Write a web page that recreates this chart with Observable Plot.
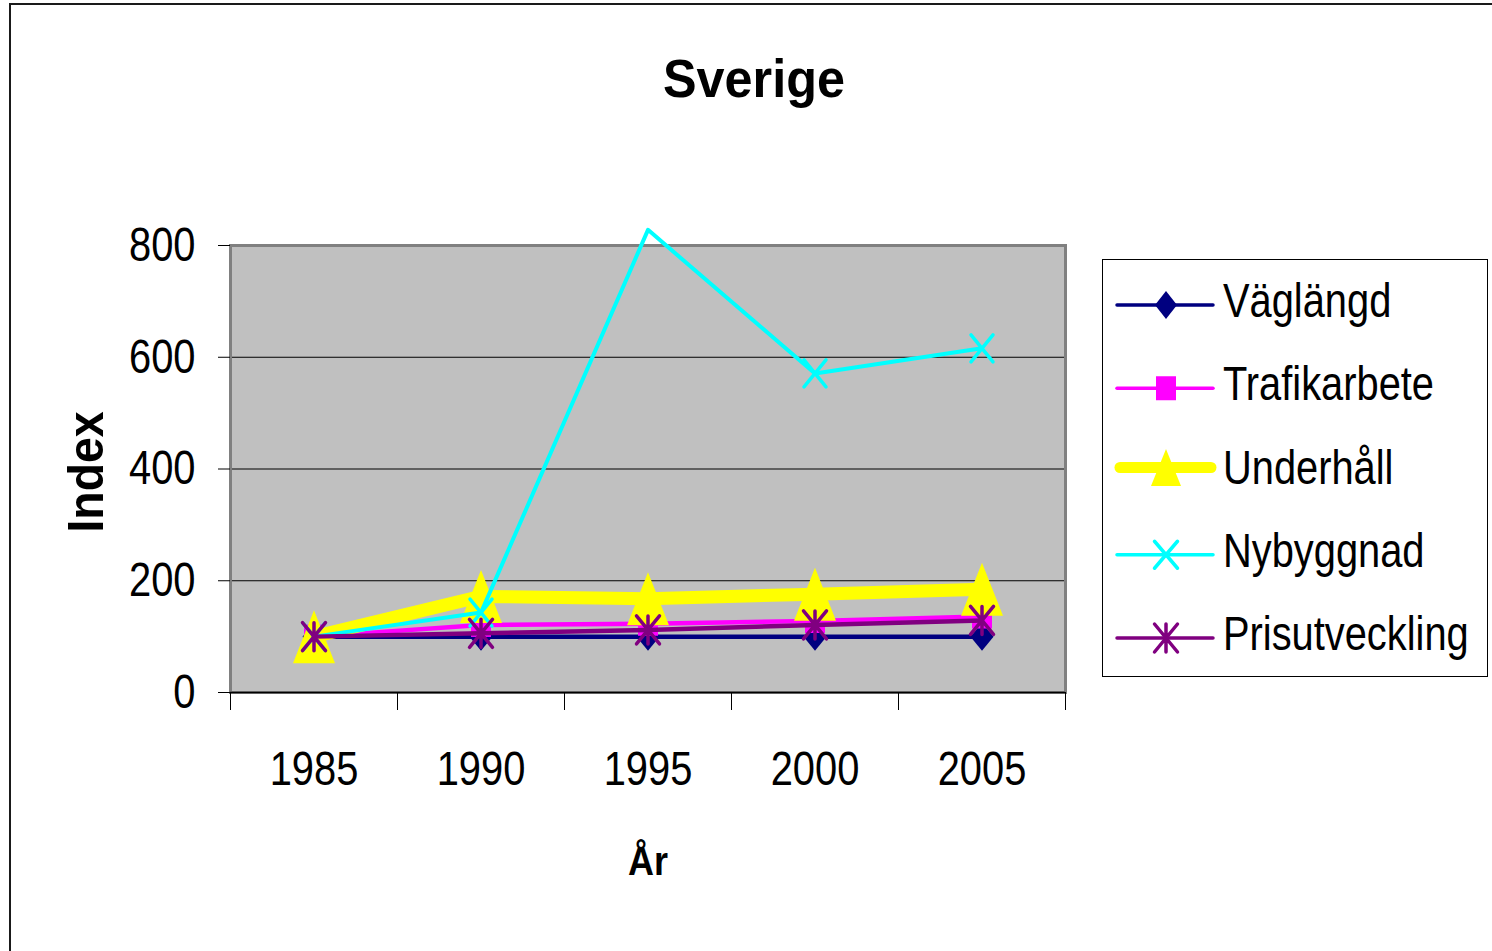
<!DOCTYPE html>
<html><head><meta charset="utf-8">
<script src="https://cdn.jsdelivr.net/npm/d3@7"></script>
<script src="https://cdn.jsdelivr.net/npm/@observablehq/plot@0.6"></script>
<style>
html,body{margin:0;padding:0;background:#fff;overflow:hidden}
#wrap{position:relative;width:1492px;height:951px;overflow:hidden}
#wrap > svg{position:absolute;left:0;top:0}
#border{position:absolute;left:9px;top:3px;width:1600px;height:1100px;border-left:2px solid #1a1a1a;border-top:2px solid #1a1a1a}
</style></head><body><div id="wrap"><div id="border"></div></div>
<script>
// ---- data ----
const years = [1985, 1990, 1995, 2000, 2005];
const seriesNames = ["Väglängd", "Trafikarbete", "Underhåll", "Nybyggnad", "Prisutveckling"];
const vaglangd = [100, 100, 100, 100, 100];
const trafikarbete = [100, 121, 123, 128, 136];
const underhall = [100, 172, 168, 176, 185];
const nybyggnad = [100, 143, 828, 571, 616];
const prisutveckling = [100, 106, 112, 121, 129];
const yTicks = [0, 200, 400, 600, 800];
const gridTicks = [200, 400, 600];
const categoryBounds = [1982.5, 1987.5, 1992.5, 1997.5, 2002.5, 2007.5];
const titleText = "Sverige";
const xLabel = "År";
const yLabel = "Index";

const seriesValues = [vaglangd, trafikarbete, underhall, nybyggnad, prisutveckling];
const colors = ["#000080", "#ff00ff", "#ffff00", "#00ffff", "#800080"];

const FONT = "'Liberation Sans', Arial, sans-serif";
const NARROW = 0.83;

// ---- marker shapes ----
const mkDiamond = (w, h) => ({draw(c){c.moveTo(0,-h/2);c.lineTo(w/2,0);c.lineTo(0,h/2);c.lineTo(-w/2,0);c.closePath();}});
const mkSquare = (w, h) => ({draw(c){c.rect(-w/2,-h/2,w,h);}});
const mkTriangle = (w, h) => ({draw(c){c.moveTo(0,-h/2);c.lineTo(w/2,h/2);c.lineTo(-w/2,h/2);c.closePath();}});
const mkX = (w, h) => ({draw(c){c.moveTo(-w/2,-h/2);c.lineTo(w/2,h/2);c.moveTo(w/2,-h/2);c.lineTo(-w/2,h/2);}});
const mkStar = (w, h) => ({draw(c){c.moveTo(-w/2,-h/2);c.lineTo(w/2,h/2);c.moveTo(w/2,-h/2);c.lineTo(-w/2,h/2);c.moveTo(0,-h/2);c.lineTo(0,h/2);}});

const styles = [
  {sym: mkDiamond(23, 28), lsym: mkDiamond(22, 28), filled: true, lw: 4.5, llw: 3.5},
  {sym: mkSquare(20, 24), lsym: mkSquare(20, 24), filled: true, lw: 4.5, llw: 3.5},
  {sym: mkTriangle(42, 53), lsym: mkTriangle(30, 37), filled: true, lw: 13, llw: 11},
  {sym: mkX(22, 27), lsym: mkX(23, 27), filled: false, lw: 4, llw: 3.5},
  {sym: mkStar(23, 28), lsym: mkStar(23, 28), filled: false, lw: 4.5, llw: 3.5}
];

const table = seriesNames.map((name, i) => years.map((year, j) => ({series: name, year, value: seriesValues[i][j]})));

const seriesMarks = table.flatMap((rows, i) => {
  const s = styles[i];
  return [
    Plot.line(rows, {x: "year", y: "value", stroke: colors[i], strokeWidth: s.lw, strokeLinejoin: "round", strokeLinecap: "round"}),
    Plot.dot(rows.filter(d => d.value <= 800), {
      x: "year", y: "value", r: 5, symbol: s.sym,
      fill: s.filled ? colors[i] : "none",
      stroke: s.filled ? "none" : colors[i],
      strokeWidth: s.filled ? 0 : 3.5, strokeLinecap: "round"
    })
  ];
});

const plot = Plot.plot({
  width: 1492, height: 951,
  marginLeft: 230, marginRight: 427, marginTop: 245, marginBottom: 259,
  style: {background: "none", fontFamily: FONT, fontSize: "48px", color: "black", overflow: "visible"},
  x: {type: "linear", domain: [1982.5, 2007.5], label: null},
  y: {type: "linear", domain: [0, 800], label: null},
  marks: [
    Plot.frame({fill: "#c0c0c0"}),
    Plot.gridY(gridTicks, {stroke: "black", strokeOpacity: 1, strokeWidth: 1}),
    Plot.frame({stroke: "#808080", strokeWidth: 3}),
    Plot.ruleY([0], {stroke: "black", strokeWidth: 1.5}),
    Plot.axisY({ticks: yTicks, tickSize: 12, tickPadding: 23, tickFormat: d3.format("d"), label: null}),
    Plot.axisX({ticks: years, tickSize: 0, tickPadding: 58, tickFormat: d3.format("d"), label: null}),
    Plot.axisX({ticks: categoryBounds, tickSize: 18, tickFormat: () => "", label: null}),
    ...seriesMarks
  ]
});
const wrap = document.getElementById("wrap");
wrap.appendChild(plot);

function condense(sel) {
  sel.each(function() {
    if (!this.textContent) return;
    const len = this.getComputedTextLength();
    if (len > 0) {
      this.setAttribute("textLength", (len * NARROW).toFixed(1));
      this.setAttribute("lengthAdjust", "spacingAndGlyphs");
    }
  });
}
condense(d3.select(plot).selectAll("text"));

// ---- overlay: titles & legend ----
const ov = d3.create("svg").attr("width", 1492).attr("height", 951).style("pointer-events", "none");
wrap.appendChild(ov.node());
ov.append("text").attr("x", 754).attr("y", 97).attr("text-anchor", "middle")
  .attr("font-family", FONT).attr("font-weight", "bold").attr("font-size", 54)
  .attr("textLength", 182).attr("lengthAdjust", "spacingAndGlyphs").text(titleText);
ov.append("text").attr("transform", "translate(103,472) rotate(-90)").attr("text-anchor", "middle")
  .attr("font-family", FONT).attr("font-weight", "bold").attr("font-size", 50)
  .attr("textLength", 121).attr("lengthAdjust", "spacingAndGlyphs").text(yLabel);
ov.append("text").attr("x", 648).attr("y", 875).attr("text-anchor", "middle")
  .attr("font-family", FONT).attr("font-weight", "bold").attr("font-size", 40)
  .attr("textLength", 40).attr("lengthAdjust", "spacingAndGlyphs").text(xLabel);

const lg = ov.append("g");
lg.append("rect").attr("x", 1102.5).attr("y", 259.5).attr("width", 385).attr("height", 417)
  .attr("fill", "white").attr("stroke", "black").attr("stroke-width", 1);
seriesNames.forEach((name, i) => {
  const s = styles[i];
  const base = 317 + i * 83.25;
  const ly = base - 12 - (i === 2 ? 4 : 0);
  lg.append("line").attr("x1", i === 2 ? 1120 : 1117).attr("x2", i === 2 ? 1211 : 1213).attr("y1", ly).attr("y2", ly)
    .attr("stroke", colors[i]).attr("stroke-width", s.llw).attr("stroke-linecap", "round");
  lg.append("path").attr("transform", `translate(1166,${ly})`).attr("d", d3.symbol(s.lsym)())
    .attr("fill", s.filled ? colors[i] : "none").attr("stroke", s.filled ? "none" : colors[i])
    .attr("stroke-width", 3.5).attr("stroke-linecap", "round");
  lg.append("text").attr("transform", `translate(1223,${base}) scale(${NARROW},1)`)
    .attr("font-family", FONT).attr("font-size", 48).text(name);
});
</script>
</body></html>
